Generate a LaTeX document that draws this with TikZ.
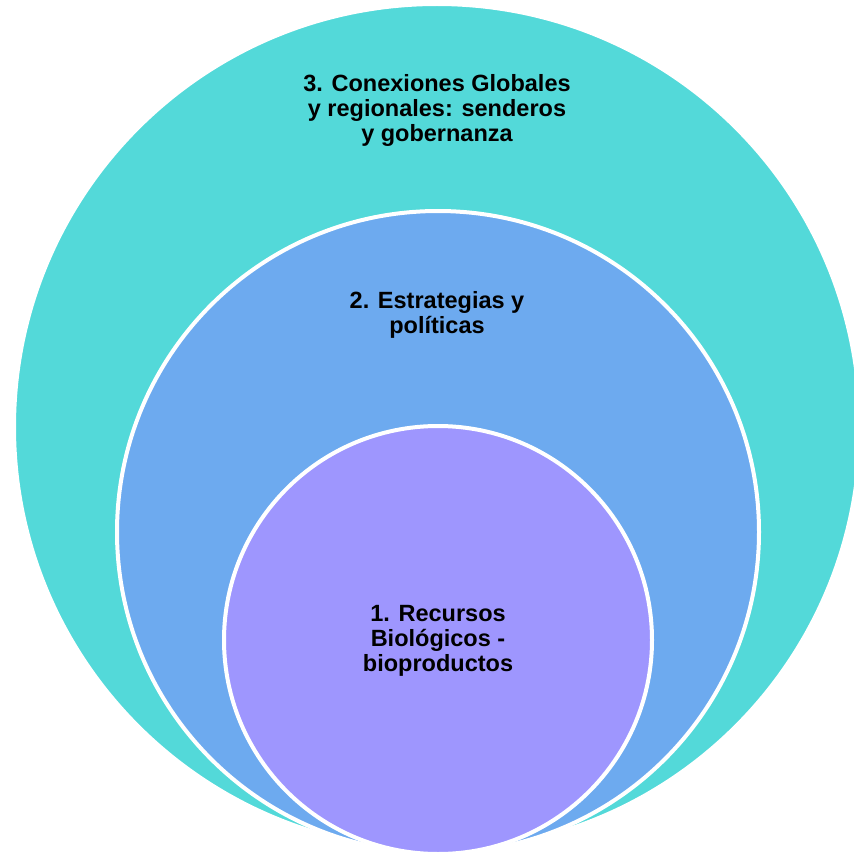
\documentclass[tikz,border=0pt]{standalone}
\usepackage{fontspec}
\setmainfont{Liberation Sans}
\definecolor{teal3}{HTML}{53D9D9}
\definecolor{blue2}{HTML}{6DAAEF}
\definecolor{purple1}{HTML}{9E96FE}
\begin{document}
\begin{tikzpicture}[x=1pt,y=-1pt,
  ring/.style={circle, draw=white, line width=4pt, inner sep=0pt},
  lbl/.style={font=\fontsize{23.5}{25}\selectfont\bfseries, align=center, text=black, inner sep=0pt}]
\useasboundingbox (0,0) rectangle (854,853);
\clip (0,0) rectangle (854,853);
\node[ring, fill=teal3, minimum size=846pt] (outer) at (437,427) {};
\node[ring, fill=blue2, minimum size=642pt] (middle) at (438,532) {};
\node[ring, fill=purple1, minimum size=428pt] (inner) at (438,640) {};
\node[lbl] (t3) at (437,110) {3. Conexiones Globales\\y regionales: senderos\\y gobernanza};
\node[lbl] (t2) at (437,314.5) {2. Estrategias y\\políticas};
\node[lbl] (t1) at (438,641) {1. Recursos\\Biológicos -\\bioproductos};
\end{tikzpicture}
\end{document}
